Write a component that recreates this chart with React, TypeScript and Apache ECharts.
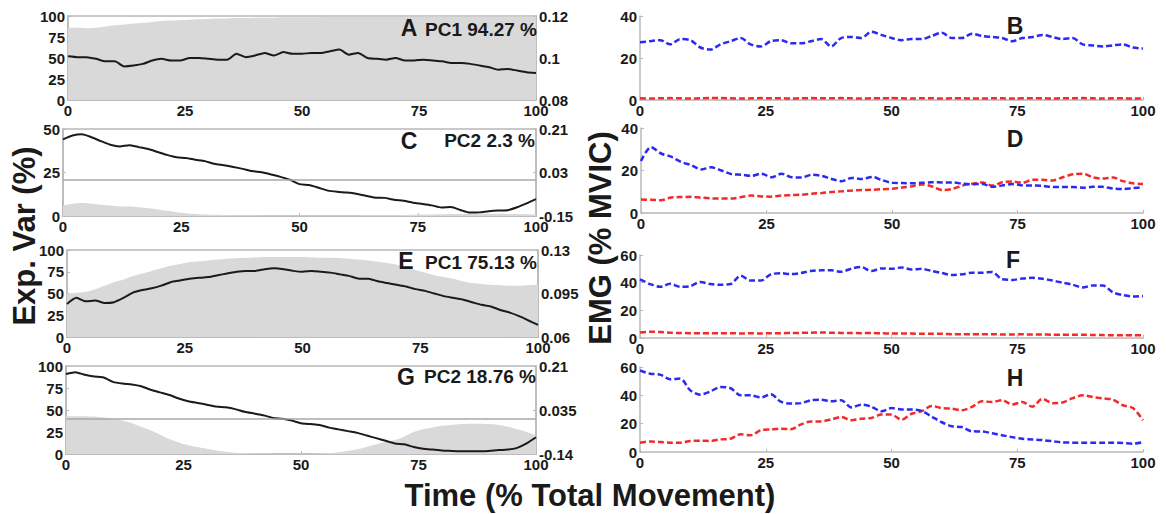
import React, { useEffect, useRef } from "react";
import * as echarts from "echarts";

const TIME = [0,2,4,6,8,10,12,14,16,18,20,22,24,26,28,30,32,34,36,38,40,42,44,46,48,50,52,54,56,58,60,62,64,66,68,70,72,74,76,78,80,82,84,86,88,90,92,94,96,98,100];
const X_TICKS = [0, 25, 50, 75, 100];

// Panel A (PC1 94.27 %)
const A_VAR = [86,86,85.5,86,87.5,89,90,91,92,93,94,94.5,95,95.5,96,96.5,97,97,97.5,97.5,98,98,98,98.5,98.5,98.5,98.5,98.5,99,99,99,99,99,99,99,99,99,99,99,99,99,99,99,99,99,99,99,99,99,99,99];
const A_PC = [0.1008,0.1004,0.1004,0.0996,0.0984,0.0984,0.096,0.0964,0.0972,0.0988,0.0996,0.0988,0.0988,0.1,0.1,0.0996,0.0992,0.0992,0.102,0.1004,0.1012,0.1024,0.1012,0.1028,0.102,0.102,0.1024,0.1024,0.1032,0.104,0.1016,0.1024,0.1,0.0996,0.0992,0.1,0.0988,0.0988,0.0992,0.0988,0.0984,0.0976,0.0976,0.0972,0.0964,0.0956,0.0944,0.0948,0.094,0.0932,0.0928];
const A_RIGHT_TICKS = [0.08, 0.1, 0.12];

// Panel C (PC2 2.3 %)
const C_VAR = [6,7,7.5,7,6.5,6,5.5,5.5,5,4.5,3.8,3,2.2,1.6,1.2,0.9,0.7,0.6,0.5,0.4,0.4,0.3,0.3,0.3,0.3,0.3,0.3,0.3,0.3,0.3,0.3,0.3,0.4,0.4,0.5,0.5,0.6,0.7,0.8,0.9,1,1.1,1.2,1.3,1.3,1.3,1.3,1.2,1.1,1,0.9];
const C_PC = [0.167,0.183,0.188,0.176,0.16,0.145,0.138,0.143,0.135,0.127,0.115,0.103,0.093,0.09,0.083,0.077,0.066,0.06,0.053,0.045,0.036,0.031,0.022,0.012,0,-0.018,-0.022,-0.033,-0.045,-0.05,-0.053,-0.058,-0.066,-0.074,-0.075,-0.083,-0.087,-0.095,-0.1,-0.106,-0.115,-0.113,-0.125,-0.136,-0.135,-0.13,-0.127,-0.126,-0.114,-0.098,-0.08];
const C_RIGHT_TICKS = [-0.15, 0.03, 0.21];

// Panel E (PC1 75.13 %)
const E_VAR = [50,51,52,55,59,63,66,70,73,76,79,82,84,86,87,88,89,90,90.5,91,91.5,92,92,92,92,92,91.5,91,91,90.5,90,89,88,86.5,85,83,80,77,74,71,69,67,64,62,61,60,59.5,59,59,59.5,60];
const E_PC = [0.0866,0.0915,0.0887,0.0894,0.0873,0.088,0.0915,0.0957,0.0978,0.0992,0.1013,0.1041,0.1055,0.1069,0.1076,0.1083,0.1097,0.1111,0.1125,0.1132,0.1132,0.1146,0.1153,0.1146,0.1132,0.1125,0.1132,0.1125,0.1118,0.1104,0.109,0.1069,0.1069,0.1048,0.1034,0.102,0.1006,0.0985,0.0971,0.095,0.0929,0.0915,0.0901,0.088,0.0859,0.0845,0.0817,0.0796,0.0768,0.0733,0.0698];
const E_RIGHT_TICKS = [0.06, 0.095, 0.13];

// Panel G (PC2 18.76 %)
const G_VAR = [43,43,43,42.5,41.5,40,38,35,31,27,22,17,13,10,8,6,4,2.5,1.5,1,0.7,0.5,0.4,0.3,0.3,0.3,0.4,0.6,1,2,3.5,5.5,8,11,14,16,20,25,28,30,32,33,34,34.5,34.5,34,33,31,28,25,21];
const G_PC = [0.1785,0.1855,0.175,0.168,0.1645,0.147,0.14,0.1365,0.1295,0.1155,0.105,0.0945,0.0805,0.07,0.063,0.056,0.049,0.0455,0.0385,0.028,0.021,0.014,0.0035,0,-0.007,-0.0175,-0.021,-0.0245,-0.035,-0.042,-0.049,-0.056,-0.0665,-0.077,-0.0875,-0.098,-0.1015,-0.112,-0.119,-0.1225,-0.126,-0.1278,-0.1295,-0.1295,-0.1295,-0.1278,-0.1243,-0.1225,-0.1155,-0.098,-0.0735];
const G_RIGHT_TICKS = [-0.14, 0.035, 0.21];

// EMG panels
const B_BLUE = [27.5,28,28.5,26.5,29,28.5,25,24,26.5,28,29.5,26.5,25.5,28,28.5,27,27,28,29,25.5,29.5,30,29.5,32.5,31,29.5,28.5,29,29,30.5,32,29.5,29.5,31.5,30.5,30,29.5,28,29.5,30,31,30,29,29.5,26.5,26,25.5,26,26.5,25,24.5];
const B_RED = [0.8,0.7,0.8,0.9,0.8,0.7,0.8,0.9,0.9,0.8,0.7,0.8,0.9,0.8,0.8,0.7,0.8,0.9,0.8,0.8,0.9,0.8,0.7,0.8,0.8,0.9,0.8,0.7,0.8,0.8,0.7,0.8,0.8,0.7,0.7,0.8,0.8,0.7,0.8,0.8,0.8,0.7,0.8,0.8,0.9,0.8,0.7,0.8,0.8,0.7,0.8];
const D_BLUE = [24.5,31,28,26.5,24,22.5,20.5,21.5,20,18.3,18,17.5,18.5,16.8,18.5,16.8,16.7,18,17.5,16,15,16.5,16,17,15.5,14.2,14.1,14,14.2,14.5,14.4,14.4,13.8,13.5,13.7,12.3,13,13.6,13,12.9,12.8,12.2,12.2,12.2,11.9,12.3,12.3,11.5,11.3,11.7,12.2];
const D_RED = [6.4,6.2,6,7.3,7.5,7.6,7.2,6.9,6.8,6.8,7.5,8.2,7.8,7.7,8.2,8.4,8.6,9.1,9.4,9.9,10.2,10.6,10.8,10.9,11.2,11.4,12,12.6,13.4,12.5,10.8,11.3,12.9,13.8,14.4,12.9,14.5,14.8,14.2,15.6,15.6,15.3,16.8,18.2,18.5,16.8,16.2,16.7,15,14,13.7];
const F_BLUE = [42.4,39,37,39.2,37,37.5,40.5,39,38.5,39,45,41.5,41.5,46,46.8,46.2,47,48.5,48.9,48.9,47.9,50.1,51.3,48.4,50.3,50,51,49.5,50,48.4,47,45.5,46,47.2,47.2,47.7,42.4,42,43,43.5,42.8,41.5,40,38.5,36.5,38,38,33,31,30,30.3];
const F_RED = [4,4.5,4.3,3.8,3.6,3.5,3.4,3.5,3.4,3.5,3.3,3.4,3.2,3.5,3.5,3.6,3.7,3.8,4,3.8,3.7,3.6,3.5,3.6,3.4,3.2,3.3,3.2,3.1,3,3,2.8,2.7,2.8,2.7,2.7,2.6,2.6,2.7,2.5,2.5,2.4,2.4,2.3,2.3,2.2,2.1,2,2,2,2];
const H_BLUE = [57.5,55.3,54.6,51.3,51.8,43.5,40.5,42.8,45.9,45,40,40,38.5,40.7,35.5,34.2,34.5,36.5,36.9,35.8,36.5,31.5,33.4,32,28.7,31,30,30,29,25,21,18.2,17.6,14.6,14.5,13.2,11.8,10.5,9.3,8.9,8.4,7.6,6.8,6.6,6.6,6.6,6.6,6.6,6.3,5.9,7];
const H_RED = [6.6,7.5,7,6.6,6.6,7.8,8,7.8,8.9,9.4,12.5,11.8,15.3,16,16.5,16,19.5,21.6,21.6,23,24.7,22.4,23.5,24,26.4,26.4,22.8,27,28.8,32.5,31,30.6,29.4,31.8,35.8,35.3,36.5,33.6,35.3,32,37.5,34.5,35,38,40,38.8,37.8,37,33,31,22.4];

const FONT = '"Liberation Sans", Arial, Helvetica, sans-serif';
const TXT = "#1a1a1a";
const AXIS_GRAY = "#b8b8b8";
const AREA_GRAY = "#d9d9d9";
const BLUE = "#2a2af2";
const RED = "#f22a2a";

const labelBase = { fontFamily: FONT, fontWeight: "bold" as const, fontSize: 15, color: TXT };

function pairs(vals: number[]) {
  return TIME.map((t, k) => [t, vals[k]]);
}

const grids = [
  { left: 68, top: 16, width: 468, height: 84 },   // A
  { left: 63, top: 129, width: 473, height: 87 },  // C
  { left: 67, top: 250, width: 471, height: 87 },  // E
  { left: 66, top: 366, width: 470, height: 88 },  // G
  { left: 640, top: 16, width: 503, height: 84 },  // B
  { left: 641, top: 128, width: 502, height: 85 }, // D
  { left: 640, top: 255, width: 503, height: 83 }, // F
  { left: 640, top: 367, width: 503, height: 85 }, // H
];

export default function App() {
  const ref = useRef<HTMLDivElement>(null);

  useEffect(() => {
    if (!ref.current) return;
    const chart = echarts.init(ref.current, undefined, { renderer: "svg" });

    const xAxis = grids.map((_, i) => ({
      type: "value",
      gridIndex: i,
      min: 0,
      max: 100,
      interval: 25,
      axisLine: { show: true, onZero: false, lineStyle: { color: AXIS_GRAY, width: 1.5 } },
      axisTick: { show: true, inside: true, length: 3, lineStyle: { color: AXIS_GRAY } },
      axisLabel: { ...labelBase, margin: 3, customValues: X_TICKS },
      splitLine: { show: false },
    }));

    const leftPanels = [
      { varMax: 100, right: A_RIGHT_TICKS },
      { varMax: 50, right: C_RIGHT_TICKS },
      { varMax: 100, right: E_RIGHT_TICKS },
      { varMax: 100, right: G_RIGHT_TICKS },
    ];

    const yAxis: any[] = [];
    leftPanels.forEach((p, i) => {
      yAxis.push({
        type: "value",
        gridIndex: i,
        position: "left",
        min: 0,
        max: p.varMax,
        interval: 25,
        axisLine: { show: true, lineStyle: { color: AXIS_GRAY, width: 1.5 } },
        axisTick: { show: true, inside: true, length: 3, lineStyle: { color: AXIS_GRAY } },
        axisLabel: { ...labelBase, margin: 3 },
        splitLine: { show: false },
      });
      yAxis.push({
        type: "value",
        gridIndex: i,
        position: "right",
        min: p.right[0],
        max: p.right[2],
        axisLine: { show: true, lineStyle: { color: AXIS_GRAY, width: 1.5 } },
        axisTick: { show: true, inside: true, length: 3, customValues: p.right, lineStyle: { color: AXIS_GRAY } },
        axisLabel: { ...labelBase, margin: 3, customValues: p.right },
        splitLine: { show: false },
      });
    });
    const rightMax = [40, 40, 60, 60];
    rightMax.forEach((m, j) => {
      yAxis.push({
        type: "value",
        gridIndex: 4 + j,
        position: "left",
        min: 0,
        max: m,
        interval: 20,
        axisLine: { show: true, lineStyle: { color: AXIS_GRAY, width: 1.5 } },
        axisTick: { show: true, inside: true, length: 3, lineStyle: { color: AXIS_GRAY } },
        axisLabel: { ...labelBase, margin: 3 },
        splitLine: { show: false },
      });
    });

    const leftData = [
      { v: A_VAR, pc: A_PC, zero: false },
      { v: C_VAR, pc: C_PC, zero: true },
      { v: E_VAR, pc: E_PC, zero: false },
      { v: G_VAR, pc: G_PC, zero: true },
    ];

    const series: any[] = [];
    leftData.forEach((d, i) => {
      series.push({
        type: "line",
        xAxisIndex: i,
        yAxisIndex: i * 2,
        data: pairs(d.v),
        showSymbol: false,
        smooth: 0.3,
        lineStyle: { width: 0 },
        areaStyle: { color: AREA_GRAY, opacity: 1 },
        z: 1,
        silent: true,
      });
      series.push({
        type: "line",
        xAxisIndex: i,
        yAxisIndex: i * 2 + 1,
        data: pairs(d.pc),
        showSymbol: false,
        smooth: 0.2,
        lineStyle: { color: "#1a1a1a", width: 2 },
        z: 3,
        silent: true,
        markLine: d.zero
          ? {
              silent: true,
              symbol: "none",
              label: { show: false },
              lineStyle: { color: "#a8a8a8", width: 1.5, type: "solid" },
              data: [{ yAxis: 0 }],
            }
          : undefined,
      });
    });

    const rightData = [
      { blue: B_BLUE, red: B_RED },
      { blue: D_BLUE, red: D_RED },
      { blue: F_BLUE, red: F_RED },
      { blue: H_BLUE, red: H_RED },
    ];
    rightData.forEach((d, j) => {
      [
        { vals: d.red, color: RED },
        { vals: d.blue, color: BLUE },
      ].forEach((s) => {
        series.push({
          type: "line",
          xAxisIndex: 4 + j,
          yAxisIndex: 8 + j,
          data: pairs(s.vals),
          showSymbol: false,
          smooth: 0.3,
          lineStyle: { color: s.color, width: 2.5, type: [6, 3] },
          z: 3,
          silent: true,
        });
      });
    });

    const txt = (text: string, x: number, y: number, size: number, align: string, rotation = 0) => ({
      type: "text",
      x,
      y,
      z: 100,
      zlevel: 0,
      rotation,
      silent: true,
      style: {
        text,
        font: `bold ${size}px ${FONT}`,
        fill: TXT,
        align,
        verticalAlign: "middle",
        textAlign: align,
        textVerticalAlign: "middle",
      },
    });

    const graphic = [
      txt("A", 409, 28, 23, "center"),
      txt("PC1 94.27 %", 537, 29, 19, "right"),
      txt("C", 409, 141, 23, "center"),
      txt("PC2 2.3 %", 535, 140, 19, "right"),
      txt("E", 406, 261, 23, "center"),
      txt("PC1 75.13 %", 537, 262, 19, "right"),
      txt("G", 406, 377, 23, "center"),
      txt("PC2 18.76 %", 536, 376, 19, "right"),
      txt("B", 1015, 26, 23, "center"),
      txt("D", 1015, 139, 23, "center"),
      txt("F", 1013, 260, 23, "center"),
      txt("H", 1015, 378, 23, "center"),
      txt("Exp. Var (%)", 24, 236, 31, "center", Math.PI / 2),
      txt("EMG (% MVIC)", 600, 238, 31, "center", Math.PI / 2),
      txt("Time (% Total Movement)", 590, 495, 31, "center"),
    ];

    chart.setOption({
      animation: false,
      backgroundColor: "#ffffff",
      grid: grids.map((g, i) => ({
        ...g,
        containLabel: false,
        show: i < 4,
        borderColor: AXIS_GRAY,
        borderWidth: 1.5,
        backgroundColor: "transparent",
      })),
      xAxis,
      yAxis,
      series,
      graphic: { elements: graphic },
    });

    return () => chart.dispose();
  }, []);

  return (
    <div
      ref={ref}
      style={{ position: "fixed", left: 0, top: 0, width: 1166, height: 514, background: "#fff" }}
    />
  );
}
